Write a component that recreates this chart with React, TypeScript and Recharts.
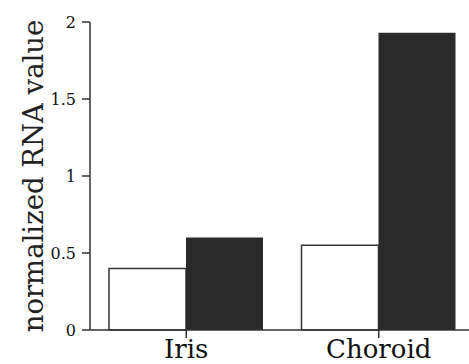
import React from 'react';
import { BarChart, Bar, XAxis, YAxis } from 'recharts';

const categories = ['Iris', 'Choroid'];
const openValues = [0.4, 0.55];
const filledValues = [0.6, 1.93];
const yTicks = [0, 0.5, 1, 1.5, 2];

const data = categories.map((name, i) => ({
  name,
  open: openValues[i],
  filled: filledValues[i],
}));

const font = '"DejaVu Serif", serif';

const YTitle = (props: any) => {
  const { viewBox } = props;
  const cy = viewBox.y + viewBox.height / 2;
  return (
    <text
      x={43}
      y={cy}
      transform={`rotate(-90, 43, ${cy})`}
      textAnchor="middle"
      fontFamily={font}
      fontSize={27.5}
      fill="#222"
    >
      normalized RNA value
    </text>
  );
};

export default function App() {
  return (
    <div style={{ position: 'absolute', left: 0, top: 0, width: 469, height: 364, overflow: 'hidden', background: '#fff' }}>
      <BarChart
        width={475}
        height={364}
        data={data}
        margin={{ top: 22, right: 0, bottom: 0, left: 0 }}
        barCategoryGap={19}
        barGap={0}
      >
        <XAxis
          dataKey="name"
          height={34}
          tickSize={8}
          tickMargin={2}
          stroke="#333"
          strokeWidth={1.5}
          tick={{ fill: '#111', fontFamily: font, fontSize: 26 }}
        />
        <YAxis
          width={90}
          domain={[0, 2]}
          ticks={yTicks}
          tickSize={8}
          tickMargin={6}
          stroke="#333"
          strokeWidth={1.5}
          tick={{ fill: '#111', fontFamily: font, fontSize: 16 }}
          label={<YTitle />}
        />
        <Bar dataKey="open" fill="#fff" stroke="#333" strokeWidth={1.5} isAnimationActive={false} />
        <Bar dataKey="filled" fill="#2a2a2a" isAnimationActive={false} />
      </BarChart>
    </div>
  );
}
